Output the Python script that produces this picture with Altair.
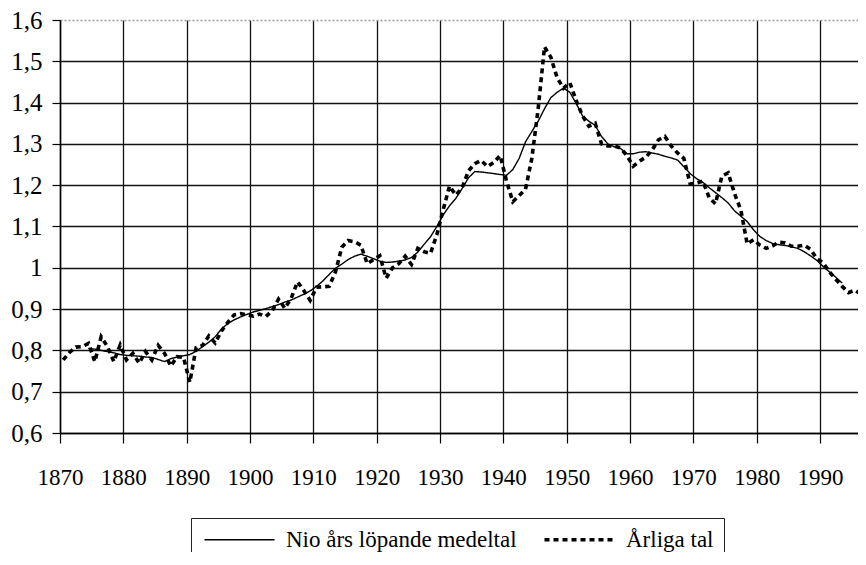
import altair as alt
import pandas as pd

# Nio års löpande medeltal (9-year moving average), 1874-1993
ma_years = list(range(1874, 1994))
ma_values = [
    0.805, 0.803, 0.800, 0.797, 0.794, 0.790,                      # 1874-1879
    0.788, 0.787, 0.786, 0.784, 0.783, 0.778, 0.773, 0.780, 0.784, 0.787,  # 1880s
    0.790, 0.798, 0.809, 0.820, 0.833, 0.852, 0.865, 0.874, 0.881, 0.887,  # 1890s
    0.893, 0.897, 0.901, 0.906, 0.911, 0.917, 0.922, 0.929, 0.936, 0.944,  # 1900s
    0.955, 0.968, 0.984, 0.999, 1.009, 1.020, 1.028, 1.033, 1.028, 1.022,  # 1910s
    1.016, 1.013, 1.014, 1.016, 1.019, 1.025, 1.038, 1.057, 1.075, 1.100,  # 1920s
    1.128, 1.150, 1.168, 1.192, 1.218, 1.233, 1.232, 1.230, 1.228, 1.226,  # 1930s
    1.224, 1.238, 1.265, 1.305, 1.330, 1.355, 1.385, 1.412, 1.425, 1.435,  # 1940s
    1.425, 1.398, 1.368, 1.355, 1.345, 1.318, 1.300, 1.293, 1.289, 1.276,  # 1950s
    1.276, 1.280, 1.281, 1.278, 1.275, 1.270, 1.266, 1.261, 1.245, 1.228,  # 1960s
    1.216, 1.207, 1.194, 1.182, 1.170, 1.157, 1.138, 1.125, 1.112, 1.092,  # 1970s
    1.076, 1.066, 1.059, 1.056, 1.054, 1.051, 1.047, 1.039, 1.029, 1.018,  # 1980s
    1.003, 0.990, 0.977, 0.963,                                    # 1990-1993
]

# Årliga tal (annual values), 1870-1997
annual_years = list(range(1870, 1998))
annual_values = [
    0.777, 0.795, 0.808, 0.809, 0.817, 0.773, 0.833, 0.809, 0.773, 0.813,  # 1870s
    0.777, 0.793, 0.769, 0.797, 0.777, 0.812, 0.793, 0.762, 0.785, 0.783,  # 1880s
    0.723, 0.807, 0.812, 0.835, 0.818, 0.847, 0.868, 0.886, 0.889, 0.886,  # 1890s
    0.883, 0.888, 0.882, 0.896, 0.924, 0.902, 0.926, 0.966, 0.945, 0.921,  # 1900s
    0.953, 0.954, 0.955, 0.990, 1.050, 1.066, 1.063, 1.055, 1.010, 1.020,  # 1910s
    1.029, 0.975, 1.000, 1.010, 1.028, 1.008, 1.047, 1.039, 1.035, 1.080,  # 1920s
    1.140, 1.198, 1.176, 1.194, 1.235, 1.252, 1.260, 1.245, 1.255, 1.272,  # 1930s
    1.210, 1.160, 1.175, 1.190, 1.265, 1.385, 1.535, 1.510, 1.460, 1.435,  # 1940s
    1.448, 1.405, 1.368, 1.343, 1.350, 1.300, 1.295, 1.295, 1.290, 1.272,  # 1950s
    1.246, 1.258, 1.268, 1.285, 1.310, 1.318, 1.295, 1.278, 1.265, 1.203,  # 1960s
    1.205, 1.210, 1.170, 1.155, 1.222, 1.230, 1.180, 1.140, 1.058, 1.068,  # 1970s
    1.055, 1.047, 1.053, 1.062, 1.060, 1.052, 1.052, 1.055, 1.045, 1.022,  # 1980s
    1.012, 0.990, 0.972, 0.955, 0.940, 0.946, 0.936, 0.930,        # 1990-1997
]

series_names = ["Nio års löpande medeltal", "Årliga tal"]
x_ticks = [1870, 1880, 1890, 1900, 1910, 1920, 1930, 1940, 1950, 1960, 1970, 1980, 1990]
y_ticks = [0.6, 0.7, 0.8, 0.9, 1.0, 1.1, 1.2, 1.3, 1.4, 1.5, 1.6]

df = pd.concat([
    pd.DataFrame({"year": ma_years, "value": ma_values, "series": series_names[0]}),
    pd.DataFrame({"year": annual_years, "value": annual_values, "series": series_names[1]}),
], ignore_index=True)

FONT = "'Liberation Serif', 'Times New Roman', serif"

legend = alt.Legend(
    title=None, orient="none", legendX=131, legendY=498, direction="horizontal",
    strokeColor="#222", fillColor="white", padding=10,
    labelFont=FONT, labelFontSize=23, labelColor="black", labelLimit=500,
    labelOffset=62, columnPadding=20,
    symbolType="M-1,0H7.75", symbolSize=256, symbolStrokeColor="black",
)

chart = alt.Chart(df).transform_calculate(
    xpos="datum.year + 0.5"
).mark_line(clip=True, color="black", strokeCap="butt").encode(
    x=alt.X(
        "xpos:Q",
        scale=alt.Scale(domain=[1870, 1996], nice=False, zero=False),
        axis=alt.Axis(
            values=x_ticks, format="d", title=None,
            labelFont=FONT, labelFontSize=23, labelColor="black",
            labelPadding=23, tickSize=10, tickColor="black", tickWidth=1.2,
            domainColor="black", domainWidth=1.5,
            grid=True, gridColor="#111", gridWidth=1.3,
            labelFlush=False, labelOverlap=False,
        ),
    ),
    y=alt.Y(
        "value:Q",
        scale=alt.Scale(domain=[0.6, 1.6], nice=False, zero=False),
        axis=alt.Axis(
            values=y_ticks, title=None,
            labelExpr="abs(datum.value - 1) < 0.001 ? '1' : replace(format(datum.value, '.1f'), '.', ',')",
            labelFont=FONT, labelFontSize=25, labelColor="black",
            labelPadding=10, tickSize=8, tickColor="black", tickWidth=1.2,
            domainColor="black", domainWidth=1.5,
            grid=True,
            gridColor={"condition": {"test": "datum.value > 1.55", "value": "#999999"}, "value": "#111111"},
            gridDash={"condition": {"test": "datum.value > 1.55", "value": [2, 2]}, "value": [1, 0]},
            gridWidth=1.3,
            labelFlush=False, labelOverlap=False,
        ),
    ),
    strokeDash=alt.StrokeDash(
        "series:N",
        scale=alt.Scale(domain=series_names, range=[[1, 0], [5, 4]]),
        legend=legend,
    ),
    strokeWidth=alt.StrokeWidth(
        "series:N",
        scale=alt.Scale(domain=series_names, range=[1.4, 3.6]),
        legend=legend,
    ),
).properties(
    width=798,
    height=413,
    padding={"left": 52, "top": 12, "right": 0, "bottom": 119},
    autosize=alt.AutoSizeParams(type="none"),
    background="white",
).configure_view(
    stroke=None
).configure_axis(
    labelFont=FONT, labelColor="black"
)

chart.save("out.html", embed_options={"renderer": "svg", "actions": False})
